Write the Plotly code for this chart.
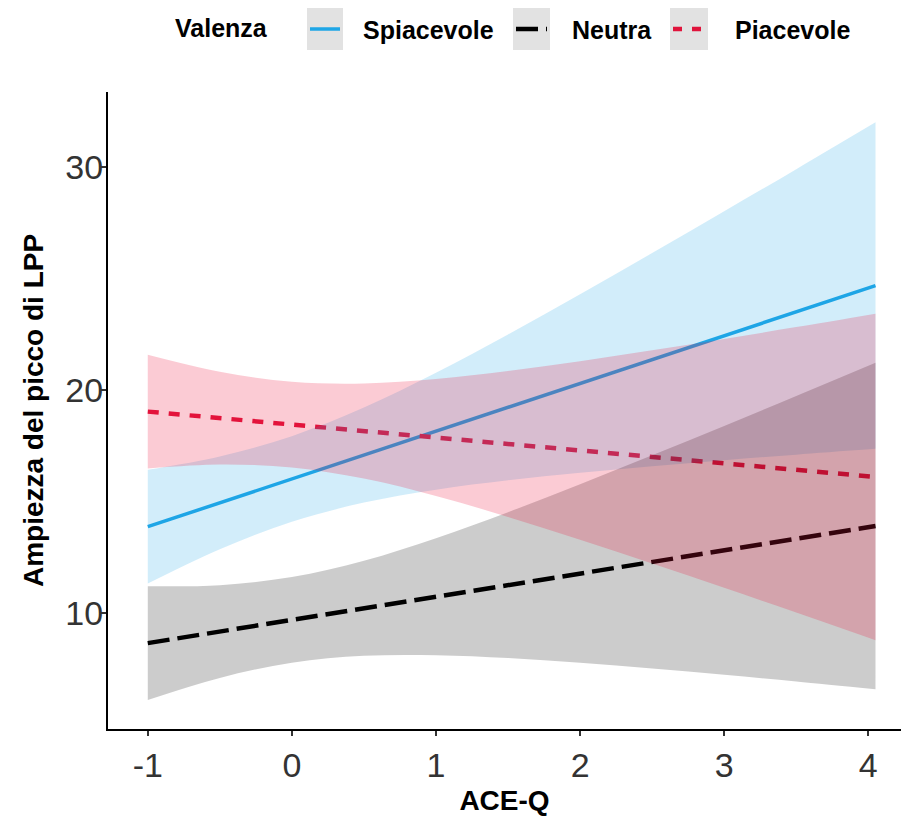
import plotly.graph_objects as go

# ---- data ----
x_line = [-1, 4.05]
spiacevole_line = [13.87, 24.68]
neutra_line = [8.65, 13.90]
piacevole_line = [19.03, 16.10]

x_band = [-1, -0.5, 0, 0.5, 1, 1.5, 2, 2.5, 3, 3.5, 4.05]
spiacevole_lo = [11.32, 12.86, 14.09, 14.95, 15.53, 15.95, 16.29, 16.58, 16.85, 17.10, 17.36]
spiacevole_hi = [16.42, 17.02, 17.93, 19.21, 20.77, 22.49, 24.29, 26.14, 28.01, 29.90, 32.00]
neutra_lo = [6.10, 7.09, 7.77, 8.08, 8.11, 7.98, 7.77, 7.51, 7.23, 6.93, 6.58]
neutra_hi = [11.20, 11.25, 11.61, 12.34, 13.35, 14.52, 15.77, 17.07, 18.39, 19.73, 21.22]
piacevole_lo = [16.48, 16.66, 16.53, 16.03, 15.25, 14.31, 13.29, 12.22, 11.13, 10.02, 8.78]
piacevole_hi = [21.58, 20.82, 20.37, 20.29, 20.49, 20.85, 21.29, 21.78, 22.29, 22.82, 23.42]

x_ticks = [-1, 0, 1, 2, 3, 4]
y_ticks = [10, 20, 30]
legend_title = "Valenza"
series_names = ["Spiacevole", "Neutra", "Piacevole"]

# ---- styles ----
BLUE = "#1ea6e6"
BLACK = "#000000"
RED = "#e0143c"
FILL_BLUE = "rgba(30,166,230,0.2)"
FILL_GREY = "rgba(0,0,0,0.2)"
FILL_RED = "rgba(236,20,60,0.22)"
FONT = "Liberation Sans, Arial, sans-serif"

fig = go.Figure()

# lines first (ribbons drawn over them, as in the reference)
fig.add_trace(go.Scatter(x=x_line, y=spiacevole_line, mode="lines", name=series_names[0],
                         line=dict(color=BLUE, width=3.5), showlegend=False))
fig.add_trace(go.Scatter(x=x_line, y=neutra_line, mode="lines", name=series_names[1],
                         line=dict(color=BLACK, width=4.5, dash="22px,8px"), showlegend=False))
fig.add_trace(go.Scatter(x=x_line, y=piacevole_line, mode="lines", name=series_names[2],
                         line=dict(color=RED, width=4.5, dash="11px,10px"), showlegend=False))

for lo, hi, fc in [(spiacevole_lo, spiacevole_hi, FILL_BLUE),
                   (neutra_lo, neutra_hi, FILL_GREY),
                   (piacevole_lo, piacevole_hi, FILL_RED)]:
    fig.add_trace(go.Scatter(x=x_band, y=lo, mode="lines", line=dict(width=0, shape="spline"),
                             showlegend=False, hoverinfo="skip"))
    fig.add_trace(go.Scatter(x=x_band, y=hi, mode="lines", line=dict(width=0, shape="spline"),
                             fill="tonexty", fillcolor=fc, showlegend=False, hoverinfo="skip"))

# ---- layout ----
W, H = 901, 820
ML, MR, MT, MB = 108, 0, 92, 91
pw, ph = W - ML - MR, H - MT - MB


def px_x(px):
    return (px - ML) / pw


def px_y(py):
    return (H - MB - py) / ph


# manual legend (ggplot-style with grey key boxes)
shapes = []
annotations = []
annotations.append(dict(text="<b>%s</b>" % legend_title, x=px_x(173), y=px_y(28), xref="paper", yref="paper",
                        xanchor="left", yanchor="middle", showarrow=False,
                        font=dict(family=FONT, size=25, color="#000")))
keys = [
    (307, 343, 361, series_names[0], BLUE, "solid", 3.5),
    (513, 550, 570, series_names[1], BLACK, "22px,8px", 4.5),
    (670, 708, 733, series_names[2], RED, "9px,10px", 4.5),
]
for x0, x1, tx, name, col, dash, lw in keys:
    shapes.append(dict(type="rect", xref="paper", yref="paper", x0=px_x(x0), x1=px_x(x1),
                       y0=px_y(50), y1=px_y(8), fillcolor="#e2e2e2", line=dict(width=0), layer="above"))
    shapes.append(dict(type="line", xref="paper", yref="paper", x0=px_x(x0 + 3), x1=px_x(x1 - 3),
                       y0=px_y(29), y1=px_y(29), line=dict(color=col, width=lw, dash=dash), layer="above"))
    annotations.append(dict(text="<b>%s</b>" % name, x=px_x(tx), y=px_y(30), xref="paper", yref="paper",
                            xanchor="left", yanchor="middle", showarrow=False,
                            font=dict(family=FONT, size=25, color="#000")))

fig.update_layout(
    width=W, height=H,
    margin=dict(l=ML, r=MR, t=MT, b=MB, autoexpand=False),
    plot_bgcolor="white", paper_bgcolor="white",
    showlegend=False,
    shapes=shapes, annotations=annotations,
    font=dict(family=FONT),
)
fig.update_xaxes(
    range=[-1.276, 4.227], tickmode="array", tickvals=x_ticks, ticktext=[str(v) for v in x_ticks],
    showgrid=False, zeroline=False, showline=True, linecolor="black", linewidth=2,
    ticks="outside", ticklen=5, tickwidth=1.5, tickcolor="#333",
    tickfont=dict(family=FONT, size=34, color="#333"),
    title=dict(text="<b>ACE-Q</b>", font=dict(family=FONT, size=28, color="#000"), standoff=8),
)
fig.update_yaxes(
    range=[4.80, 33.36], tickmode="array", tickvals=y_ticks, ticktext=[str(v) for v in y_ticks],
    showgrid=False, zeroline=False, showline=True, linecolor="black", linewidth=2,
    ticks="outside", ticklen=5, tickwidth=1.5, tickcolor="#333", ticklabelstandoff=-9,
    tickfont=dict(family=FONT, size=34, color="#333"),
    title=dict(text="<b>Ampiezza del picco di LPP</b>", font=dict(family=FONT, size=28, color="#000"), standoff=14),
)

fig.write_html("out.html")
